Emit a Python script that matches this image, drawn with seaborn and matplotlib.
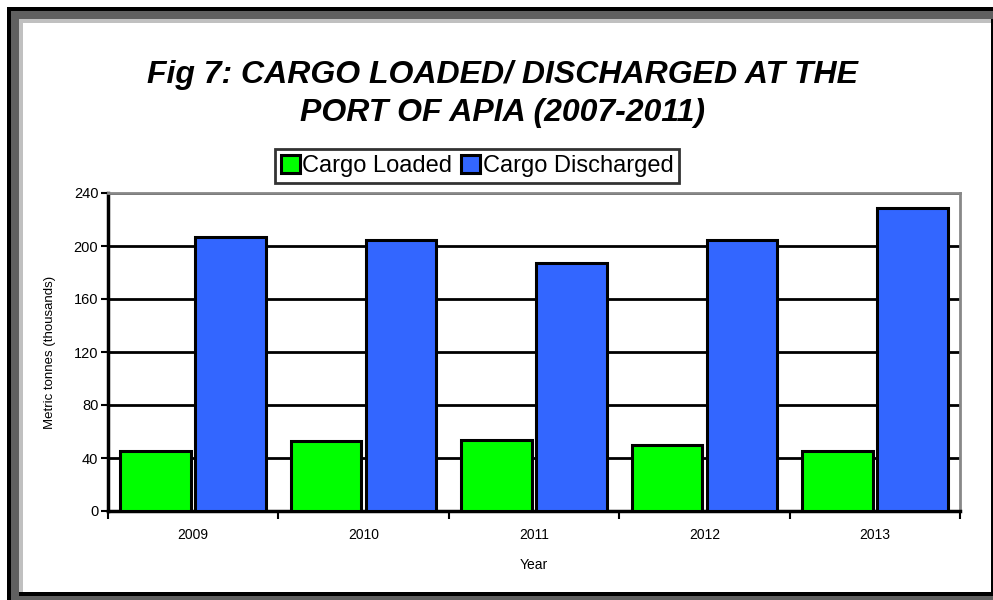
import matplotlib
matplotlib.use("Agg")
import matplotlib.pyplot as plt
import seaborn as sns
import pandas as pd
from matplotlib.patches import Rectangle

# --- dados ---
years = ["2009", "2010", "2011", "2012", "2013"]
cargo_loaded = [45.5, 53, 53.5, 49.5, 45.5]
cargo_discharged = [206.5, 204.5, 187, 204.5, 229]
series = ["Cargo Loaded", "Cargo Discharged"]
colors = ["#00FF00", "#3366FF"]

df = pd.DataFrame({
    "Year": years * 2,
    "value": cargo_loaded + cargo_discharged,
    "series": [series[0]] * len(years) + [series[1]] * len(years),
})

sns.set_style("white")
plt.rcParams["font.family"] = ["Liberation Sans", "DejaVu Sans"]
plt.rcParams["text.color"] = "black"
plt.rcParams["axes.labelcolor"] = "black"
plt.rcParams["xtick.color"] = "black"
plt.rcParams["ytick.color"] = "black"

W, H = 993, 600
fig = plt.figure(figsize=(W / 100, H / 100), dpi=100)
fig.patch.set_facecolor("white")

# moldura do gráfico (estilo janela do Excel)
def px_rect(x0, y0, x1, y1, color):
    fig.patches.append(Rectangle((x0 / W, 1 - y1 / H), (x1 - x0) / W, (y1 - y0) / H,
                                 transform=fig.transFigure, zorder=-5,
                                 facecolor=color, edgecolor="none"))

px_rect(7, 7, 993, 600, "black")
px_rect(11, 11, 993, 600, "#606060")
px_rect(19, 19, 993, 596, "black")
px_rect(19, 19, 991, 592, "#c0c0c0")
px_rect(23, 23, 991, 592, "white")

ax = fig.add_axes([108 / W, 1 - 511 / H, (960 - 108) / W, (511 - 193) / H])
sns.barplot(data=df, x="Year", y="value", hue="series", palette=colors,
            width=0.88, gap=0.06, edgecolor="black", linewidth=2.2,
            saturation=1, ax=ax, zorder=3)

ax.set_ylim(0, 240)
ax.set_xlim(-0.5, len(years) - 0.5)
ax.set_yticks(range(0, 241, 40))
ax.yaxis.grid(True, color="black", linewidth=2, zorder=0)
ax.set_axisbelow(True)

for side in ["left", "bottom"]:
    ax.spines[side].set_color("black")
    ax.spines[side].set_linewidth(2.5)
for side in ["top", "right"]:
    ax.spines[side].set_color("#888888")
    ax.spines[side].set_linewidth(2)

ax.tick_params(axis="y", direction="out", length=5, width=1.5, labelsize=10.5, left=True, pad=2)
ax.set_xticks(range(len(years)))
ax.set_xticklabels(years)
ax.set_xticks([i - 0.5 for i in range(len(years) + 1)], minor=True)
ax.tick_params(axis="x", which="major", length=0, labelsize=10, pad=12)
ax.tick_params(axis="x", which="minor", direction="out", length=6, width=1.5, bottom=True)

ax.set_xlabel("Year", fontsize=10, labelpad=12)
ax.set_ylabel("Metric tonnes (thousands)", fontsize=9.5, labelpad=13)

ax.legend_.remove()
handles, labels = ax.get_legend_handles_labels()
leg = fig.legend(handles, labels, loc="center", bbox_to_anchor=(477 / W, 1 - 166 / H),
                 ncol=2, frameon=True, fontsize=17, handlelength=0.8, handleheight=0.8,
                 handletextpad=0.1, columnspacing=0.4, borderpad=0.25, fancybox=False)
leg.get_frame().set_edgecolor("black")
leg.get_frame().set_linewidth(2)

fig.text(503 / W, 1 - 75 / H, "Fig 7: CARGO LOADED/ DISCHARGED AT THE",
         ha="center", va="center", fontsize=23, fontweight="bold", fontstyle="italic")
fig.text(503 / W, 1 - 113 / H, "PORT OF APIA (2007-2011)",
         ha="center", va="center", fontsize=23, fontweight="bold", fontstyle="italic")

fig.savefig("out.png", dpi=100)
